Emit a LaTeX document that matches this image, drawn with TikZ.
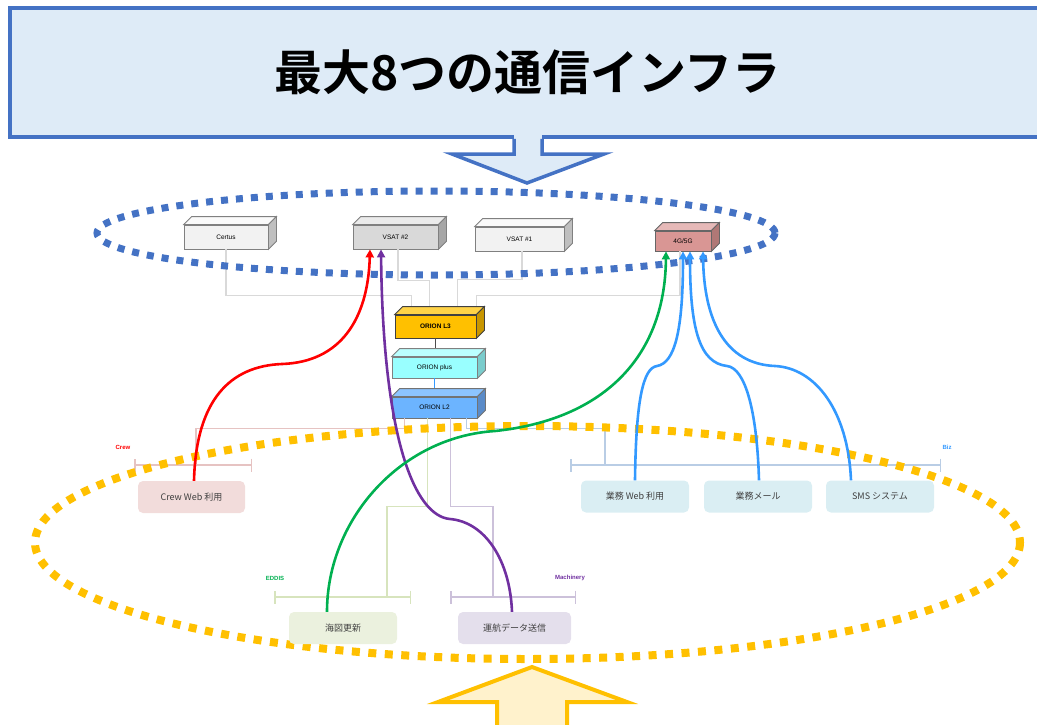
\documentclass[tikz,border=0pt]{standalone}
\usepackage{fontspec}
\setmainfont{Liberation Sans}
\newfontfamily\jp{Noto Sans CJK JP}[BoldFont={Noto Sans CJK JP Bold}]
\usetikzlibrary{arrows.meta,calc}

\definecolor{bannerfill}{HTML}{DEEBF7}
\definecolor{bannerline}{HTML}{4472C4}
\definecolor{gold}{HTML}{FFC000}
\definecolor{goldfill}{HTML}{FFF2CC}
\definecolor{crewred}{HTML}{FF0000}
\definecolor{eddisgreen}{HTML}{00B050}
\definecolor{machpurple}{HTML}{7030A0}
\definecolor{bizblue}{HTML}{3399FF}
\definecolor{crewfill}{HTML}{F2DCDB}
\definecolor{bizfill}{HTML}{DAEEF3}
\definecolor{eddisfill}{HTML}{EBF1DE}
\definecolor{machfill}{HTML}{E4DFEC}
\definecolor{crewtree}{HTML}{E6C3C2}
\definecolor{eddistree}{HTML}{D7E4BD}
\definecolor{machtree}{HTML}{CCC1DA}
\definecolor{biztree}{HTML}{B9CDE5}
\definecolor{wire}{HTML}{D9D9D9}

% front face is the node, top and side are drawn here
\newcommand\cubefaces[4]{%
  \draw[draw=#4, fill=#2, line width=0.8pt] (#1.north west) -- ++(8,-8) -- ($(#1.north east)+(8,-8)$) -- (#1.north east) -- cycle;
  \draw[draw=#4, fill=#3, line width=0.8pt] (#1.north east) -- ($(#1.north east)+(8,-8)$) -- ($(#1.south east)+(8,-8)$) -- (#1.south east) -- cycle;
}

\begin{document}
\begin{tikzpicture}[x=1pt,y=-1pt,
  banner/.style={draw=bannerline, fill=bannerfill, line width=3.5pt, inner sep=0pt,
    minimum width=1035pt, minimum height=129pt, font=\jp\bfseries\fontsize{48}{50}\selectfont},
  device/.style={line width=0.8pt, inner sep=0pt, font=\fontsize{6.5}{7}\selectfont},
  usebox/.style={rounded corners=5pt, inner sep=0pt, minimum height=32pt,
    font=\jp\fontsize{9}{10}\selectfont, text=black!75},
  tag/.style={inner sep=0pt, font=\bfseries\fontsize{6}{7}\selectfont},
  wireline/.style={draw=wire, line width=1.5pt},
  bracket/.style={line width=1.5pt, {Bar[width=13pt]}-{Bar[width=13pt]}},
  route/.style={line width=2.6pt, -{Triangle[length=8pt,width=8pt]}},
  ]
\useasboundingbox (0,0) rectangle (1037,724);

% banner and its arrow
\node[banner] (banner) at (527.5,72.5) {最大8つの通信インフラ};
\fill[bannerfill] (514,132) rectangle (542,156);
\draw[bannerline, line width=3.5pt, fill=bannerfill, line join=miter]
  ($(banner.south)+(-13.5,0)$) -- (514,154) -- (452,154) -- (527,183) -- (604,154) -- (542,154) -- ($(banner.south)+(14.5,0)$);
\fill[bannerfill] (515.8,130) rectangle (540.2,152.2);

% devices
\node[device, draw=black!50, fill=black!5, minimum width=84pt, minimum height=24pt] (certus) at (226,237) {Certus};
\node[device, draw=black!50, fill=black!15, minimum width=85pt, minimum height=24pt] (vsat2) at (395.5,237) {VSAT \#2};
\node[device, draw=black!50, fill=black!5, minimum width=89pt, minimum height=24pt] (vsat1) at (519.5,239) {VSAT \#1};
\node[device, draw=black!60, fill={rgb,255:red,217;green,150;blue,148}, minimum width=56pt, minimum height=20pt] (g45) at (683,241) {4G/5G};
\node[device, draw=black!75, fill=gold, minimum width=81pt, minimum height=23pt, font=\bfseries\fontsize{6.5}{7}\selectfont] (l3) at (435.5,326.5) {ORION L3};
\node[device, draw=black!50, fill={rgb,255:red,153;green,255;blue,255}, minimum width=85pt, minimum height=21pt] (plus) at (434.5,367.5) {ORION plus};
\node[device, draw=black!55, fill={rgb,255:red,108;green,180;blue,255}, minimum width=85pt, minimum height=21pt] (l2) at (434.5,407.5) {ORION L2};

% wires up to the links
\draw[wireline] (certus.south) -- ++(0,46) -| ($(l3.north west)+(17,-8)$);
\draw[wireline] ($(vsat2.south)+(2.5,0)$) -- ++(0,31) -| ($(l3.north west)+(35,-8)$);
\draw[wireline] ($(vsat1.south)+(2.5,0)$) -- ++(0,28) -| ($(l3.north west)+(63,-8)$);
\draw[wireline] ($(g45.south)+(-3,0)$) -- ++(0,44) -| ($(l3.north west)+(82,-8)$);
\draw[black!70, line width=1pt] (l3.south) -- ($(plus.north)+(1,-8)$);
\draw[bizblue, line width=1pt] (plus.south) -- ($(l2.north)+(0,-8)$);

\cubefaces{certus}{black!2}{black!25}{black!50}
\cubefaces{vsat2}{black!8}{black!35}{black!50}
\cubefaces{vsat1}{black!2}{black!25}{black!50}
\cubefaces{g45}{{rgb,255:red,230;green,185;blue,184}}{{rgb,255:red,176;green,120;blue,118}}{black!60}
\cubefaces{l3}{{rgb,255:red,255;green,211;blue,71}}{{rgb,255:red,200;green,150;blue,0}}{black!75}
\cubefaces{plus}{{rgb,255:red,187;green,255;blue,255}}{{rgb,255:red,122;green,204;blue,204}}{black!50}
\cubefaces{l2}{{rgb,255:red,140;green,196;blue,255}}{{rgb,255:red,90;green,139;blue,200}}{black!55}

% tree below ORION L2
\coordinate (crewbar) at (196,465);
\coordinate (bizbar) at (605,465);
\coordinate (eddisbar) at (387,597);
\coordinate (machbar) at (493,597);
\draw[draw=crewtree, line width=1.5pt] ($(l2.south west)+(13,0)$) -- ++(0,10) -| (crewbar);
\draw[draw=biztree, line width=1.5pt] ($(l2.south west)+(75,0)$) -- ++(0,10) -| (bizbar);
\draw[draw=eddistree, line width=1.5pt] ($(l2.south west)+(36,0)$) -- ++(0,88) -| (eddisbar);
\draw[draw=machtree, line width=1.5pt] ($(l2.south west)+(59,0)$) -- ++(0,88) -| (machbar);
\draw[bracket, draw=crewtree] ($(crewbar)+(-62,0)$) -- ($(crewbar)+(56,0)$);
\draw[bracket, draw=biztree] ($(bizbar)+(-35,0)$) -- ($(bizbar)+(336,0)$);
\draw[bracket, draw=eddistree] ($(eddisbar)+(-113,0)$) -- ($(eddisbar)+(24,0)$);
\draw[bracket, draw=machtree] ($(machbar)+(-43,0)$) -- ($(machbar)+(83,0)$);

\node[tag, text=crewred] (crewtag) at (123,447) {Crew};
\node[tag, text=bizblue] (biztag) at (947,447) {Biz};
\node[tag, text=eddisgreen] (eddistag) at (275,578) {EDDIS};
\node[tag, text=machpurple] (machtag) at (570,578) {Machinery};

% the two groups
\draw[bannerline, line width=7pt, dash pattern=on 7pt off 8pt] (436,233) ellipse [x radius=339, y radius=42];
\draw[gold, line width=8pt, dash pattern=on 8pt off 8.5pt] (527.5,542.5) ellipse [x radius=492.5, y radius=116.5];

% arrow from below
\draw[gold, line width=4pt, fill=goldfill, line join=miter]
  (497,735) -- (497,702) -- (438,702) -- (532,667) -- (627,702) -- (567,702) -- (567,735);

% uses
\node[usebox, fill=crewfill, minimum width=107pt] (crewweb) at (191.5,497) {Crew Web 利用};
\node[usebox, fill=bizfill, minimum width=108pt] (bizweb) at (635,496.5) {業務 Web 利用};
\node[usebox, fill=bizfill, minimum width=108pt] (bizmail) at (758,496.5) {業務メール};
\node[usebox, fill=bizfill, minimum width=108pt] (sms) at (880,496.5) {SMS システム};
\node[usebox, fill=eddisfill, minimum width=108pt] (chart) at (343,628) {海図更新};
\node[usebox, fill=machfill, minimum width=113pt] (navdata) at (514.5,628) {運航データ送信};

% routes
\draw[route, crewred] ($(crewweb.north)+(2.5,0)$) .. controls (196,400) and (230,366) .. (282,364)
  .. controls (340,362) and (368,320) .. ($(vsat2.south)+(-25.5,0)$);
\draw[route, machpurple] ($(navdata.north)+(-2.5,0)$) .. controls (510,560) and (485,522) .. (450,519)
  .. controls (415,516) and (383,440) .. ($(vsat2.south)+(-14.5,0)$);
\draw[route, eddisgreen] ($(chart.north)+(-16,0)$) .. controls (327,520) and (400,437) .. (495,431)
  .. controls (600,420) and (665,360) .. ($(g45.south)+(-17,0)$);
\draw[route, bizblue] (bizweb.north) .. controls (636,400) and (643,368) .. (657,366)
  .. controls (675,363) and (683,330) .. (g45.south);
\draw[route, bizblue] ($(bizmail.north)+(1,0)$) .. controls (757,410) and (745,368) .. (727,366)
  .. controls (700,363) and (690,330) .. ($(g45.south)+(7,0)$);
\draw[route, bizblue] ($(sms.north)+(-29,0)$) .. controls (848,410) and (815,368) .. (775,366)
  .. controls (725,364) and (704,320) .. ($(g45.south)+(20,0)$);
\end{tikzpicture}
\end{document}
